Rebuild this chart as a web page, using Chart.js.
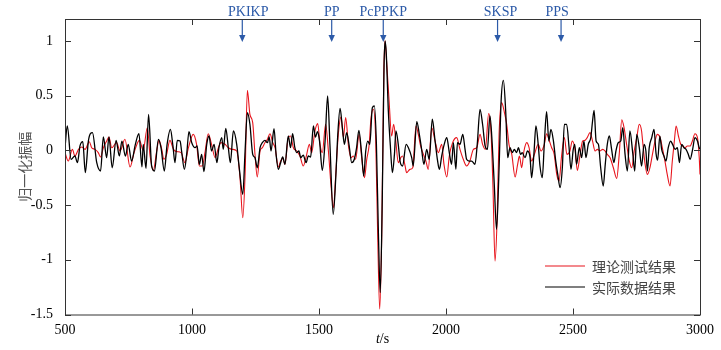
<!DOCTYPE html>
<html>
<head>
<meta charset="utf-8">
<script src="https://cdn.jsdelivr.net/npm/chart.js@4.4.1/dist/chart.umd.min.js"></script>
<style>
  html, body { margin: 0; padding: 0; background: #fff; }
  canvas { display: block; }
</style>
</head>
<body>
<canvas id="wave" width="721" height="350"></canvas>
<script>
// normalised amplitude vs time (s), peaks/troughs of each trace
const blackT = [500, 509, 524, 539, 549, 559, 570, 580, 592, 608, 625, 640, 651, 664, 673, 686, 701, 714, 724, 738,
  749, 762, 777, 791, 803, 808, 819, 829, 841, 852, 868, 878, 891, 902, 915, 925, 933, 942, 953, 959,
  970, 979, 988, 999, 1012, 1020, 1029, 1038, 1047, 1058, 1067, 1077, 1087, 1098, 1106, 1117, 1123, 1133, 1143, 1151,
  1163, 1176, 1186, 1200, 1209, 1218, 1228, 1239, 1248, 1257, 1268, 1277, 1287, 1297, 1304, 1311, 1323, 1331, 1340, 1349,
  1357, 1366, 1379, 1388, 1396, 1405, 1412, 1421, 1428, 1438, 1449, 1458, 1467, 1478, 1486, 1494, 1502, 1513, 1524, 1534,
  1543, 1556, 1566, 1574, 1583, 1592, 1600, 1609, 1618, 1629, 1639, 1648, 1657, 1668, 1676, 1684, 1692, 1700, 1710, 1718,
  1726, 1734, 1741, 1749, 1756, 1760, 1765, 1773, 1781, 1789, 1797, 1803, 1812, 1819, 1829, 1843, 1852, 1865, 1871, 1885,
  1895, 1904, 1913, 1924, 1934, 1946, 1957, 1966, 1974, 1983, 1993, 2003, 2013, 2022, 2029, 2039, 2045, 2055, 2066, 2075,
  2081, 2091, 2101, 2114, 2123, 2134, 2144, 2154, 2163, 2173, 2182, 2190, 2199, 2209, 2217, 2226, 2235, 2243, 2252, 2261,
  2269, 2278, 2285, 2294, 2300, 2311, 2321, 2331, 2337, 2346, 2354, 2363, 2370, 2379, 2387, 2396, 2405, 2413, 2423, 2432,
  2440, 2449, 2458, 2466, 2475, 2484, 2492, 2501, 2507, 2514, 2525, 2534, 2543, 2551, 2560, 2570, 2577, 2583, 2591, 2600,
  2609, 2619, 2627, 2635, 2643, 2652, 2661, 2669, 2678, 2688, 2696, 2705, 2714, 2724, 2735, 2743, 2751, 2761, 2770, 2780,
  2787, 2793, 2800, 2810, 2819, 2827, 2833, 2842, 2849, 2858, 2866, 2875, 2884, 2892, 2902, 2911, 2919, 2928, 2937, 2945,
  2954, 2961, 2971, 2980, 2990, 2997, 3000];
const blackV = [0.024, 0.223, -0.082, -0.052, -0.113, 0.040, 0.079, -0.204, 0.085, 0.162, -0.113, -0.189, 0.122, -0.067, 0.122, -0.159, 0.091, -0.052, 0.085, -0.052,
  0.055, -0.098, 0.055, 0.152, -0.152, 0.055, -0.165, 0.329, -0.143, -0.189, 0.101, 0.024, -0.189, 0.055, 0.192, 0.040, -0.113, 0.091, 0.085, -0.006,
  -0.174, -0.037, 0.171, 0.070, 0.024, 0.040, -0.128, -0.037, -0.195, 0.055, 0.131, -0.006, 0.055, -0.113, 0.024, 0.116, 0.009, 0.201, 0.024, -0.113,
  0.177, 0.055, -0.159, -0.402, -0.006, 0.345, 0.238, -0.037, -0.067, -0.159, 0.024, 0.070, 0.091, 0.070, 0.122, -0.006, 0.198, -0.037, -0.174, -0.113,
  -0.061, -0.128, 0.131, 0.024, 0.152, 0.024, -0.021, -0.006, -0.067, -0.043, -0.113, -0.052, -0.061, 0.223, 0.120, 0.170, 0.085, -0.183, 0.085, 0.497,
  0.055, -0.585, -0.250, 0.146, 0.384, 0.207, 0.055, 0.162, 0.055, -0.113, -0.082, 0.024, 0.183, -0.037, -0.235, -0.006, 0.085, 0.055, 0.390, 0.405,
  0.055, -0.768, -1.300, -0.463, 0.756, 1.000, 0.878, 0.360, 0.040, -0.204, -0.037, 0.177, 0.055, -0.098, -0.143, 0.055, 0.024, -0.067, -0.143, 0.262,
  0.146, 0.009, -0.128, 0.009, -0.082, 0.284, 0.085, -0.082, -0.174, -0.052, 0.055, 0.116, -0.021, -0.128, 0.070, -0.174, 0.070, 0.055, 0.146, 0.009,
  -0.082, -0.098, -0.098, -0.128, 0.055, 0.375, 0.238, 0.040, 0.009, 0.314, 0.055, -0.311, -0.723, -0.159, 0.451, 0.640, 0.360, -0.067, 0.024, -0.021,
  0.009, -0.021, 0.024, -0.037, -0.021, -0.067, -0.006, -0.067, -0.250, -0.037, 0.223, 0.055, -0.143, -0.250, 0.055, 0.354, 0.085, 0.192, 0.085, -0.098,
  -0.220, -0.341, -0.159, 0.238, 0.238, 0.040, -0.174, 0.009, 0.055, -0.128, 0.024, -0.067, 0.085, -0.067, 0.055, 0.116, 0.268, 0.366, 0.085, 0.055,
  -0.159, -0.326, -0.128, 0.055, 0.131, 0.009, -0.113, -0.006, 0.070, 0.085, 0.207, -0.037, -0.189, 0.177, -0.021, -0.189, 0.146, 0.024, -0.143, 0.055,
  -0.006, -0.189, 0.024, 0.116, 0.192, -0.030, -0.090, 0.130, 0.009, -0.052, -0.098, 0.024, 0.085, 0.055, 0.009, 0.024, -0.113, 0.055, 0.024, 0.009,
  -0.037, -0.082, 0.009, 0.116, 0.085, 0.024, 0.009];

const redT = [500, 513, 529, 539, 553, 566, 579, 596, 605, 618, 631, 640, 651, 664, 673, 684, 703, 717, 736, 756,
  772, 793, 808, 824, 835, 848, 861, 870, 881, 889, 900, 913, 927, 940, 957, 972, 986, 1005, 1018, 1029,
  1041, 1051, 1064, 1077, 1091, 1104, 1114, 1130, 1143, 1159, 1176, 1189, 1200, 1209, 1218, 1228, 1239, 1248, 1257, 1268,
  1277, 1287, 1297, 1307, 1318, 1327, 1340, 1349, 1357, 1366, 1379, 1388, 1399, 1412, 1425, 1438, 1451, 1462, 1471, 1484,
  1495, 1504, 1513, 1526, 1537, 1547, 1557, 1566, 1576, 1587, 1596, 1605, 1616, 1626, 1635, 1644, 1658, 1668, 1679, 1688,
  1697, 1705, 1714, 1723, 1731, 1739, 1747, 1755, 1760, 1766, 1776, 1786, 1794, 1803, 1812, 1822, 1829, 1839, 1845, 1858,
  1869, 1882, 1891, 1900, 1911, 1921, 1930, 1944, 1957, 1970, 1983, 1992, 2003, 2013, 2026, 2042, 2055, 2068, 2081, 2094,
  2108, 2121, 2134, 2144, 2155, 2168, 2177, 2185, 2193, 2201, 2209, 2219, 2230, 2239, 2248, 2259, 2272, 2282, 2289, 2298,
  2307, 2318, 2327, 2337, 2348, 2363, 2374, 2387, 2396, 2407, 2416, 2426, 2436, 2445, 2455, 2466, 2476, 2488, 2497, 2508,
  2517, 2528, 2538, 2547, 2556, 2567, 2577, 2587, 2596, 2606, 2617, 2626, 2635, 2646, 2659, 2672, 2682, 2692, 2701, 2711,
  2722, 2731, 2741, 2751, 2761, 2770, 2774, 2784, 2793, 2803, 2814, 2823, 2832, 2843, 2853, 2862, 2871, 2882, 2891, 2899,
  2906, 2915, 2924, 2932, 2941, 2950, 2961, 2970, 2980, 2990, 2997, 3000];
const redV = [-0.021, -0.098, 0.009, -0.052, 0.009, 0.030, 0.009, 0.079, 0.024, 0.009, -0.021, -0.061, 0.024, 0.085, 0.122, 0.024, 0.070, -0.006, 0.101, -0.152,
  -0.021, 0.091, 0.000, 0.207, -0.052, -0.183, -0.006, 0.091, 0.009, -0.082, -0.037, 0.091, 0.009, -0.012, -0.021, -0.113, 0.024, 0.146, 0.055, -0.143,
  -0.143, -0.021, 0.152, 0.055, -0.067, 0.024, 0.070, 0.055, 0.024, 0.009, -0.006, -0.250, -0.616, -0.220, 0.549, 0.329, 0.253, -0.037, -0.244, -0.006,
  0.024, 0.070, 0.101, 0.152, 0.070, 0.024, -0.152, -0.098, -0.073, -0.128, 0.116, 0.131, 0.024, -0.006, -0.052, -0.143, -0.043, 0.055, -0.021, 0.177,
  0.244, 0.055, -0.021, 0.238, -0.006, -0.311, -0.524, -0.220, 0.146, 0.305, 0.116, 0.299, 0.040, -0.067, -0.052, -0.082, 0.146, -0.067, -0.250, -0.082,
  0.040, 0.299, 0.375, 0.116, -0.768, -1.450, -0.768, 0.695, 1.000, 0.817, 0.451, 0.131, 0.238, 0.070, -0.113, -0.067, -0.052, -0.143, -0.204, -0.174,
  -0.159, 0.223, 0.146, 0.040, -0.037, -0.098, -0.174, 0.207, 0.085, -0.021, 0.055, -0.128, -0.244, -0.052, 0.070, 0.116, 0.009, -0.082, -0.143, -0.098,
  0.009, 0.024, 0.146, 0.055, 0.009, 0.335, 0.177, -0.341, -1.012, -0.646, 0.146, 0.436, 0.345, 0.238, 0.055, -0.037, -0.244, -0.128, -0.052, -0.159,
  -0.006, 0.070, 0.024, -0.098, -0.037, 0.055, -0.006, 0.055, 0.152, 0.085, 0.024, -0.037, -0.220, -0.280, -0.052, 0.116, -0.037, -0.006, 0.085, 0.009,
  -0.183, -0.037, 0.085, 0.091, 0.116, 0.162, 0.085, -0.006, 0.009, -0.006, 0.009, -0.006, -0.037, -0.067, -0.159, -0.256, -0.037, 0.280, 0.207, 0.055,
  -0.098, -0.159, -0.006, 0.116, 0.238, 0.177, 0.085, -0.128, -0.220, -0.159, -0.021, 0.085, 0.146, 0.116, 0.009, -0.098, -0.220, -0.326, -0.098, 0.085,
  0.223, 0.131, 0.055, 0.040, 0.024, 0.040, 0.040, 0.085, 0.152, 0.116, -0.067, -0.220];

const xTicks = [500, 1000, 1500, 2000, 2500, 3000];
const yTicks = [-1.5, -1, -0.5, 0, 0.5, 1];
const phaseNames = ['PKIKP', 'PP', 'PcPPKP', 'SKSP', 'PPS'];
const phaseTimes = [1198, 1550, 1753, 2203, 2453];
const seriesNames = ['理论测试结果', '实际数据结果'];

const RED = '#e8141c';
const BLUE = '#2c5aa8';
const CJK = '"Noto Sans CJK SC", sans-serif';
const SERIF = '"Liberation Serif", "Times New Roman", serif';

function toPoints(ts, vs) {
  return ts.map((t, i) => ({ x: t, y: vs[i] }));
}

// box, inward ticks, phase arrows, legend and axis titles
const decorations = {
  id: 'decorations',
  afterDraw(chart) {
    const ctx = chart.ctx;
    const a = chart.chartArea;
    const xs = chart.scales.x, ys = chart.scales.y;
    ctx.save();

    ctx.strokeStyle = '#333';
    ctx.lineWidth = 1;
    ctx.strokeRect(a.left + 0.5, a.top + 0.5, a.right - a.left, a.bottom - a.top);

    ctx.beginPath();
    xTicks.forEach(v => {
      const px = Math.round(xs.getPixelForValue(v)) + 0.5;
      ctx.moveTo(px, a.bottom); ctx.lineTo(px, a.bottom - 6);
      ctx.moveTo(px, a.top); ctx.lineTo(px, a.top + 6);
    });
    yTicks.forEach(v => {
      const py = Math.round(ys.getPixelForValue(v)) + 0.5;
      ctx.moveTo(a.left, py); ctx.lineTo(a.left + 6, py);
      ctx.moveTo(a.right, py); ctx.lineTo(a.right - 6, py);
    });
    ctx.stroke();

    // phase arrivals
    const labelShift = [6, 0, 0, 3, -4];
    ctx.strokeStyle = BLUE;
    ctx.fillStyle = BLUE;
    ctx.lineWidth = 1.2;
    ctx.font = '14px ' + SERIF;
    ctx.textAlign = 'center';
    ctx.textBaseline = 'middle';
    phaseTimes.forEach((t, i) => {
      const px = xs.getPixelForValue(t);
      const tip = a.top + 23;
      ctx.beginPath();
      ctx.moveTo(px, a.top + 1);
      ctx.lineTo(px, tip - 5);
      ctx.stroke();
      ctx.beginPath();
      ctx.moveTo(px - 3.2, tip - 7);
      ctx.lineTo(px + 3.2, tip - 7);
      ctx.lineTo(px, tip);
      ctx.closePath();
      ctx.fill();
      ctx.fillText(phaseNames[i], px + labelShift[i], 12);
    });

    // legend
    const colors = [RED, '#000'];
    ctx.font = '14px ' + CJK;
    ctx.textAlign = 'left';
    ctx.fillStyle = '#444';
    seriesNames.forEach((name, i) => {
      const y = a.bottom - 48.5 + i * 21;
      ctx.strokeStyle = colors[i];
      ctx.lineWidth = 1.2;
      ctx.beginPath();
      ctx.moveTo(a.right - 155, y);
      ctx.lineTo(a.right - 115, y);
      ctx.stroke();
      ctx.fillText(name, a.right - 108, y + 1);
    });

    // x title: italic t
    ctx.fillStyle = '#000';
    ctx.textBaseline = 'middle';
    const cx = (a.left + a.right) / 2;
    ctx.font = 'italic 14px ' + SERIF;
    const w1 = ctx.measureText('t').width;
    ctx.font = '14px ' + SERIF;
    const w2 = ctx.measureText('/s').width;
    const x0 = cx - (w1 + w2) / 2;
    ctx.font = 'italic 14px ' + SERIF;
    ctx.fillText('t', x0, 339);
    ctx.font = '14px ' + SERIF;
    ctx.fillText('/s', x0 + w1, 339);

    // y title
    ctx.translate(25, (a.top + a.bottom) / 2);
    ctx.rotate(-Math.PI / 2);
    ctx.textAlign = 'center';
    ctx.fillStyle = '#555';
    ctx.font = '14px ' + CJK;
    ctx.fillText('归一化振幅', 0, 0);
    ctx.restore();
  }
};

new Chart(document.getElementById('wave'), {
  type: 'scatter',
  data: {
    datasets: [
      {
        label: seriesNames[1],
        data: toPoints(blackT, blackV),
        showLine: true,
        borderColor: '#000',
        borderWidth: 1.3,
        pointRadius: 0,
        cubicInterpolationMode: 'monotone'
      },
      {
        label: seriesNames[0],
        data: toPoints(redT, redV),
        showLine: true,
        borderColor: RED,
        borderWidth: 1.1,
        pointRadius: 0,
        cubicInterpolationMode: 'monotone'
      }
    ]
  },
  options: {
    responsive: false,
    animation: false,
    events: [],
    layout: { padding: { left: 0, right: 21, top: 19, bottom: 0 } },
    plugins: { legend: { display: false }, tooltip: { enabled: false } },
    scales: {
      x: {
        type: 'linear',
        min: 500,
        max: 3000,
        afterBuildTicks: s => { s.ticks = xTicks.map(v => ({ value: v })); },
        afterFit: s => { s.height = 35.5; },
        grid: { display: false },
        border: { display: false },
        ticks: {
          color: '#000', padding: -1, maxRotation: 0,
          font: { family: SERIF, size: 14 },
          callback: v => String(v)
        }
      },
      y: {
        min: -1.5,
        max: 1.2,
        afterBuildTicks: s => { s.ticks = yTicks.map(v => ({ value: v })); },
        afterFit: s => { s.width = 65; },
        grid: { display: false },
        border: { display: false },
        ticks: {
          color: '#000', padding: 4,
          font: { family: SERIF, size: 14 },
          callback: v => String(v)
        }
      }
    }
  },
  plugins: [decorations]
});
</script>
</body>
</html>
